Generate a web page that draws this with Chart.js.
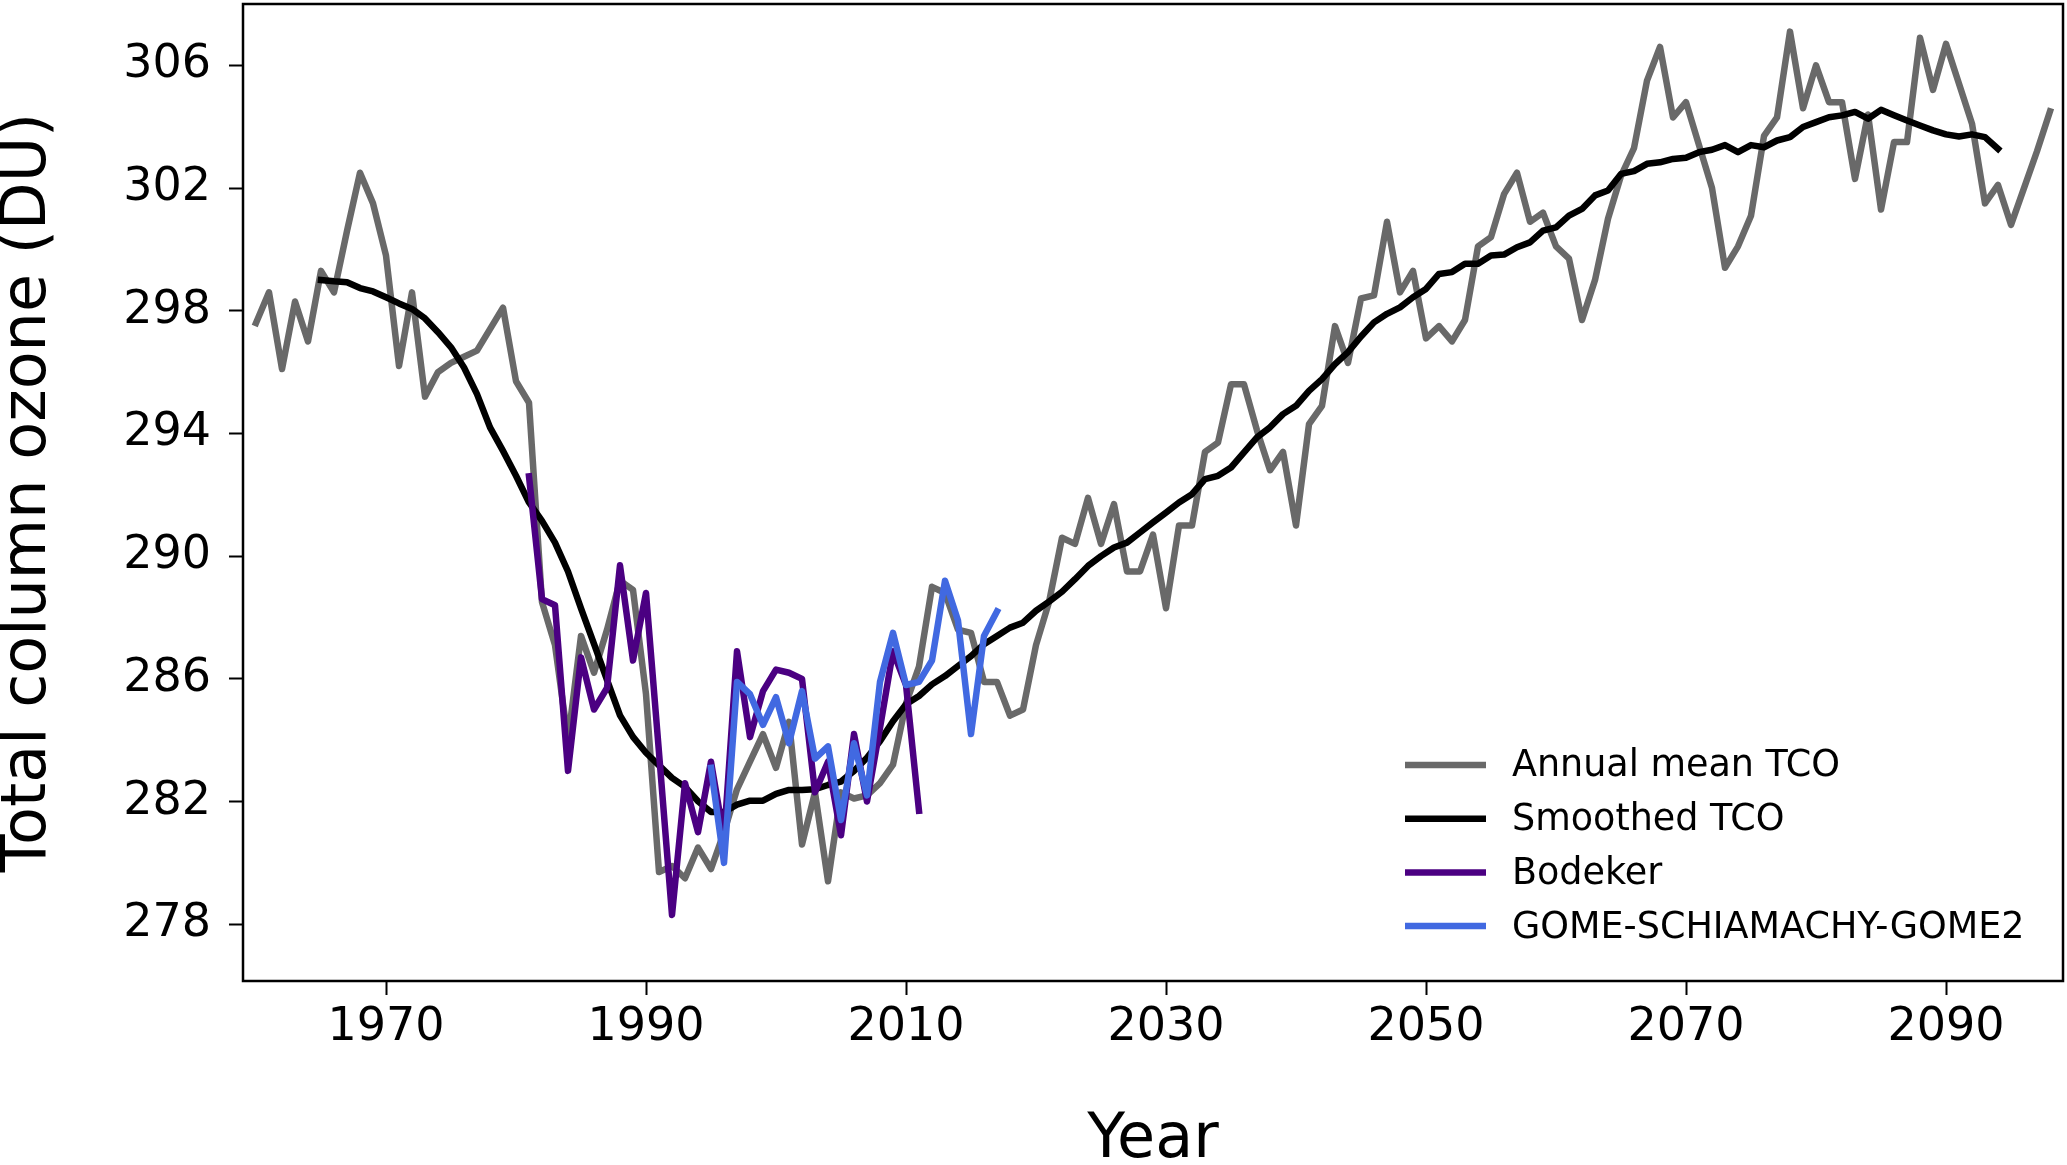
<!DOCTYPE html>
<html lang="en">
	<head>
		<meta charset="UTF-8" />
		<title>Total column ozone</title>
		<style>
			body { margin: 0; background: #fff; }
		</style>
	</head>

	<body>
		<canvas id="myChart" width="2067" height="1165"></canvas>

		<script src="https://cdn.jsdelivr.net/npm/chart.js"></script>
		<script>
			// Annual mean TCO, 1960 - 2098
			var annualStart = 1960;
			var annual = [
				297.6, 298.6, 296.1, 298.3, 297.0, 299.3, 298.6, 300.6, 302.5, 301.5,
				299.8, 296.2, 298.6, 295.2, 296.0, 296.3, 296.5, 296.7, 297.4, 298.1,
				295.7, 295.0, 288.5, 287.1, 284.0, 287.4, 286.2, 287.6, 289.2, 288.9,
				285.5, 279.7, 279.9, 279.5, 280.5, 279.8, 281.0, 282.4, 283.3, 284.2,
				283.1, 284.6, 280.6, 282.3, 279.4, 282.3, 282.1, 282.2, 282.6, 283.2,
				285.2, 286.4, 289.0, 288.8, 287.6, 287.5, 285.9, 285.9, 284.8, 285.0,
				287.1, 288.5, 290.6, 290.4, 291.9, 290.4, 291.7, 289.5, 289.5, 290.7,
				288.3, 291.0, 291.0, 293.4, 293.7, 295.6, 295.6, 294.1, 292.8, 293.4,
				291.0, 294.3, 294.9, 297.5, 296.3, 298.4, 298.5, 300.9, 298.6, 299.3,
				297.1, 297.5, 297.0, 297.7, 300.1, 300.4, 301.8, 302.5, 300.9, 301.2,
				300.1, 299.7, 297.7, 299.0, 301.0, 302.4, 303.3, 305.5, 306.6, 304.3,
				304.8, 303.4, 302.0, 299.4, 300.1, 301.1, 303.7, 304.3, 307.1, 304.6,
				306.0, 304.8, 304.8, 302.3, 304.4, 301.3, 303.5, 303.5, 306.9, 305.2,
				306.7, 305.4, 304.1, 301.5, 302.1, 300.8, 302.0, 303.2, 304.5
			];

			// Smoothed TCO, 1965 - 2094
			var smoothStart = 1965;
			var smoothed = [
				299.0, 298.96, 298.93, 298.74, 298.63,
				298.44, 298.24, 298.06, 297.75, 297.3, 296.81, 296.15, 295.28, 294.2, 293.43,
				292.62, 291.75, 291.15, 290.44, 289.5, 288.3, 287.14, 285.97, 284.81, 284.11,
				283.59, 283.18, 282.77, 282.48, 282.01, 281.66, 281.66, 281.9, 282.03, 282.03,
				282.25, 282.38, 282.38, 282.4, 282.54, 282.65, 283.0, 283.43, 283.97, 284.62,
				285.17, 285.44, 285.82, 286.09, 286.42, 286.74, 287.13, 287.4, 287.67, 287.83,
				288.22, 288.52, 288.84, 289.25, 289.68, 290.0, 290.28, 290.44, 290.77, 291.1,
				291.42, 291.75, 292.02, 292.51, 292.62, 292.89, 293.38, 293.87, 294.2, 294.63,
				294.9, 295.39, 295.77, 296.26, 296.65, 297.16, 297.62, 297.9, 298.11, 298.44,
				298.71, 299.2, 299.26, 299.53, 299.53, 299.8, 299.83, 300.07, 300.23, 300.61,
				300.72, 301.1, 301.32, 301.76, 301.92, 302.46, 302.55, 302.79, 302.84, 302.95,
				302.99, 303.17, 303.25, 303.4, 303.17, 303.4, 303.33, 303.55, 303.66, 303.99,
				304.15, 304.31, 304.37, 304.48, 304.26, 304.55, 304.37, 304.2, 304.04, 303.88,
				303.75, 303.68, 303.75, 303.66, 303.28
			];

			// Bodeker, 1981 - 2011
			var bodekerStart = 1981;
			var bodeker = [
				292.6, 288.6, 288.4, 283.0, 286.7, 285.0, 285.7, 289.7, 286.6,
				288.8, 283.6, 278.3, 282.6, 281.0, 283.3, 280.8, 286.9, 284.1, 285.6,
				286.3, 286.2, 286.0, 282.3, 283.3, 280.9, 284.2, 282.0, 284.4, 286.9,
				285.8, 281.7
			];

			// GOME-SCHIAMACHY-GOME2, 1995 - 2017
			var gomeStart = 1995;
			var gome = [
				283.1, 280.0, 285.9, 285.5, 284.5,
				285.4, 283.9, 285.6, 283.4, 283.8, 281.4, 283.9, 282.2, 285.9, 287.5,
				285.8, 285.9, 286.6, 289.2, 287.9, 284.2, 287.4, 288.2
			];

			var xTicks = [1970, 1990, 2010, 2030, 2050, 2070, 2090];
			var yTicks = [278, 282, 286, 290, 294, 298, 302, 306];

			function toPoints(start, values) {
				return values.map(function (v, i) {
					return { x: start + i, y: v };
				});
			}

			// box round the plot area
			var frame = {
				id: "frame",
				afterDatasetsDraw: function (chart) {
					var a = chart.chartArea;
					var ctx = chart.ctx;
					ctx.save();
					ctx.strokeStyle = "#000";
					ctx.lineWidth = 2.5;
					ctx.strokeRect(a.left, a.top, a.right - a.left, a.bottom - a.top);
					ctx.restore();
				},
			};

			// legend in the lower right corner
			var legendBox = {
				id: "legendBox",
				afterDraw: function (chart) {
					var ctx = chart.ctx;
					ctx.save();
					ctx.font = "36.5px 'DejaVu Sans'";
					ctx.textBaseline = "middle";
					ctx.textAlign = "left";
					chart.data.datasets.forEach(function (ds, i) {
						var y = 765 + i * 53.7;
						ctx.strokeStyle = ds.borderColor;
						ctx.lineWidth = 6.5;
						ctx.beginPath();
						ctx.moveTo(1405, y);
						ctx.lineTo(1486, y);
						ctx.stroke();
						ctx.fillStyle = "#000";
						ctx.fillText(ds.label, 1512, y + 2);
					});
					ctx.restore();
				},
			};

			var myChart = document.getElementById("myChart").getContext("2d");
			var chart = new Chart(myChart, {
				type: "line",
				data: {
					datasets: [
						{
							label: "Annual mean TCO",
							data: toPoints(annualStart, annual),
							borderColor: "#696969",
							order: 4,
						},
						{
							label: "Smoothed TCO",
							data: toPoints(smoothStart, smoothed),
							borderColor: "#000000",
							order: 3,
						},
						{
							label: "Bodeker",
							data: toPoints(bodekerStart, bodeker),
							borderColor: "#4b0082",
							order: 2,
						},
						{
							label: "GOME-SCHIAMACHY-GOME2",
							data: toPoints(gomeStart, gome),
							borderColor: "#4169e1",
							order: 1,
						},
					],
				},
				options: {
					responsive: false,
					animation: false,
					devicePixelRatio: 1,
					layout: { padding: { top: 4, right: 4, left: 0, bottom: 0 } },
					elements: {
						line: {
							borderWidth: 6.5,
							tension: 0,
							fill: false,
							borderJoinStyle: "round",
							borderCapStyle: "square",
						},
						point: { radius: 0 },
					},
					plugins: {
						legend: { display: false },
						tooltip: { enabled: false },
					},
					scales: {
						x: {
							type: "linear",
							min: 1959,
							max: 2099,
							afterBuildTicks: function (scale) {
								scale.ticks = xTicks.map(function (v) {
									return { value: v };
								});
							},
							afterFit: function (scale) {
								scale.height = 184;
								scale.paddingLeft = 0;
								scale.paddingRight = 0;
							},
							border: { display: false },
							grid: {
								drawOnChartArea: false,
								drawTicks: true,
								tickLength: 14,
								tickWidth: 2,
								tickColor: "#000",
							},
							ticks: {
								color: "#000",
								font: { family: "DejaVu Sans", size: 46 },
								padding: 5,
								maxRotation: 0,
								autoSkip: false,
								callback: function (v) {
									return String(v);
								},
							},
							title: {
								display: true,
								text: "Year",
								color: "#000",
								font: { family: "DejaVu Sans", size: 62, lineHeight: 0.75 },
								padding: { top: 0, bottom: 1 },
							},
						},
						y: {
							min: 276.15,
							max: 308,
							afterBuildTicks: function (scale) {
								scale.ticks = yTicks.map(function (v) {
									return { value: v };
								});
							},
							afterFit: function (scale) {
								scale.width = 243;
								scale.paddingTop = 0;
								scale.paddingBottom = 0;
							},
							border: { display: false },
							grid: {
								drawOnChartArea: false,
								drawTicks: true,
								tickLength: 14,
								tickWidth: 2,
								tickColor: "#000",
							},
							ticks: {
								color: "#000",
								font: { family: "DejaVu Sans", size: 46 },
								padding: 18,
								autoSkip: false,
								callback: function (v) {
									return String(v);
								},
							},
							title: {
								display: true,
								text: "Total column ozone (DU)",
								color: "#000",
								font: { family: "DejaVu Sans", size: 62, lineHeight: 0.75 },
								padding: { top: 6, bottom: 0 },
							},
						},
					},
				},
				plugins: [frame, legendBox],
			});
		</script>
	</body>
</html>
